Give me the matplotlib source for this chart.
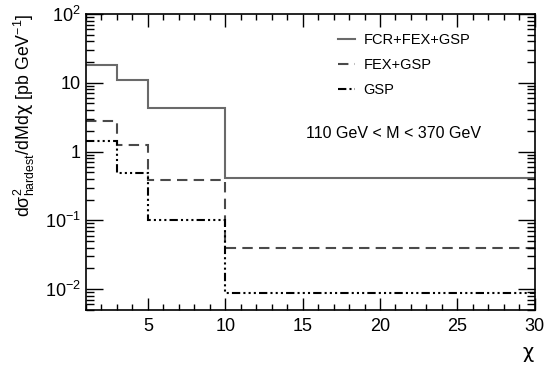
import matplotlib
matplotlib.use("Agg")
import matplotlib.pyplot as plt
from matplotlib.ticker import FixedLocator, FixedFormatter, MultipleLocator, LogLocator, NullFormatter

plt.rcParams['font.family'] = ['Liberation Sans', 'DejaVu Sans']
plt.rcParams['mathtext.fontset'] = 'custom'
plt.rcParams['mathtext.rm'] = 'Liberation Sans'
plt.rcParams['mathtext.it'] = 'Liberation Sans:italic'
plt.rcParams['mathtext.sf'] = 'DejaVu Sans'

bin_edges = [1, 3, 5, 10, 30]
fcr_fex_gsp = [17.8, 11.0, 4.3, 0.415]
fex_gsp = [2.75, 1.26, 0.39, 0.039]
gsp = [1.41, 0.48, 0.10, 0.0087]
series_labels = ["FCR+FEX+GSP", "FEX+GSP", "GSP"]
ytick_vals = [1e-2, 1e-1, 1, 10, 100]
ytick_labels = [r'$10^{-2}$', r'$10^{-1}$', '1', '10', r'$10^{2}$']

fig = plt.figure(figsize=(5.44, 3.65), dpi=100)
ax = fig.add_axes([0.158, 0.151, 0.825, 0.811])

styles = [
    dict(color='#6a6a6a', linestyle='-', lw=1.5),
    dict(color='#4a4a4a', linestyle=(0, (5, 3)), lw=1.5),
    dict(color='#000000', linestyle=(0, (4, 1.5, 1, 1.5, 1, 1.5, 1, 1.5)), lw=1.5),
]
for vals, lab, st in zip([fcr_fex_gsp, fex_gsp, gsp], series_labels, styles):
    ax.stairs(vals, bin_edges, label=lab, baseline=None, **st)

ax.set_yscale('log')
ax.set_xlim(1, 30)
ax.set_ylim(0.005, 100)

ax.xaxis.set_major_locator(FixedLocator([5, 10, 15, 20, 25, 30]))
ax.xaxis.set_minor_locator(MultipleLocator(1))
ax.yaxis.set_major_locator(FixedLocator(ytick_vals))
ax.yaxis.set_major_formatter(FixedFormatter(ytick_labels))
ax.yaxis.set_minor_locator(LogLocator(base=10, subs=range(2, 10)))
ax.yaxis.set_minor_formatter(NullFormatter())

ax.tick_params(which='both', direction='in', top=True, right=True, labelsize=13, width=1)
ax.tick_params(axis='y', which='major', length=12)
ax.tick_params(axis='y', which='minor', length=6)
ax.tick_params(axis='x', which='major', length=9)
ax.tick_params(axis='x', which='minor', length=4.5)
ax.tick_params(axis='x', pad=6)
for s in ax.spines.values():
    s.set_linewidth(1.2)

ax.set_xlabel(r'$\mathsf{χ}$', fontsize=14, loc='right')
ax.xaxis.set_label_coords(1.0, -0.12)
ax.set_ylabel(r'd$\mathrm{σ}^{2}_{\mathrm{hardest}}$/dMd$\mathsf{χ}$ [pb GeV$^{-1}$]', fontsize=12.8, loc='top')
ax.yaxis.set_label_coords(-0.11, 1.0)

leg = ax.legend(loc='upper right', bbox_to_anchor=(0.885, 0.98), frameon=False, fontsize=10.5,
                handlelength=1.1, handletextpad=0.6, labelspacing=0.75)

ax.text(0.49, 0.595, '110 GeV < M < 370 GeV', transform=ax.transAxes, fontsize=11.5,
        ha='left', va='center')

fig.savefig('out.png', dpi=100)
